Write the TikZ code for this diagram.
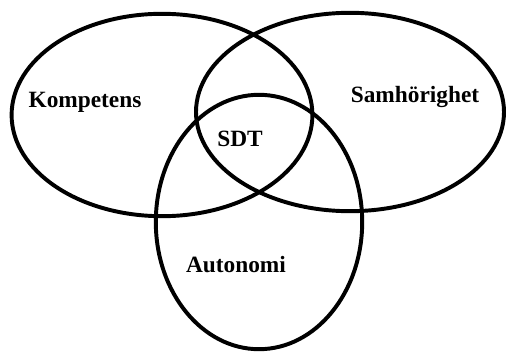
\documentclass[tikz,border=0pt]{standalone}
\usepackage{fontspec}
\setmainfont{Liberation Serif}
\begin{document}
\begin{tikzpicture}[lbl/.style={font=\fontsize{16.6}{20}\selectfont\bfseries}]
			\useasboundingbox (0,0) rectangle (12.675,8.775);
			\draw[line width=2.8pt] (4.05,5.9) circle [x radius=3.76cm, y radius=2.53cm] ;
			\draw[line width=2.8pt] (8.75,5.975) circle [x radius=3.85cm, y radius=2.48cm] ;
			\draw[line width=2.8pt] (6.475,3.225) circle [x radius=2.58cm, y radius=3.18cm] ;
			\node[lbl] (kompetens) at (2.125,6.225) {Kompetens};
			\node[lbl] (samhorighet) at (10.375,6.35) {Samhörighet};
			\node[lbl] (sdt) at (6.0,5.3) {SDT};
			\node[lbl] (autonomi) at (5.9,2.15) {Autonomi};
		\end{tikzpicture}
\end{document}
